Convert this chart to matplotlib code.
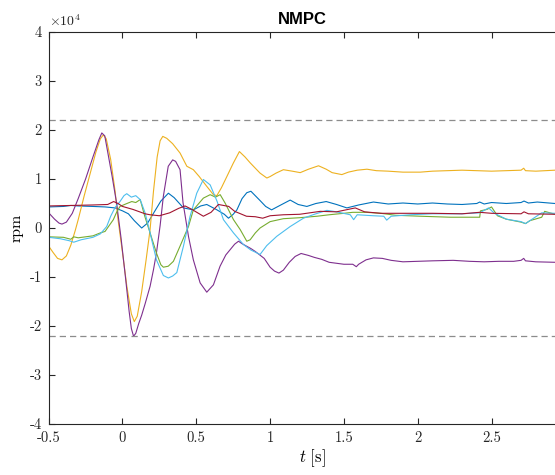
import matplotlib
matplotlib.use("Agg")
import matplotlib.pyplot as plt
import numpy as np

# values, rpm in units of 1e4
scale = 1e4

t_blue = [-0.50, -0.40, -0.35, -0.30, -0.20, -0.118, -0.05, 0.00, 0.04, 0.08, 0.13, 0.17, 0.22, 0.26, 0.311,
          0.35, 0.413, 0.48, 0.53, 0.571, 0.64, 0.69, 0.718, 0.75, 0.775, 0.81, 0.842, 0.87, 0.932, 0.97,
          1.01, 1.06, 1.136, 1.19, 1.249, 1.31, 1.38, 1.45, 1.52, 1.60, 1.70, 1.80, 1.90, 2.00, 2.10, 2.20,
          2.30, 2.40, 2.42, 2.45, 2.50, 2.60, 2.70, 2.72, 2.75, 2.81, 2.93]
v_blue = [0.43, 0.44, 0.46, 0.45, 0.44, 0.43, 0.41, 0.35, 0.29, 0.15, 0.00, 0.10, 0.35, 0.55, 0.71,
          0.62, 0.41, 0.37, 0.45, 0.48, 0.37, 0.28, 0.20, 0.28, 0.37, 0.60, 0.72, 0.75, 0.56, 0.44,
          0.37, 0.45, 0.57, 0.48, 0.44, 0.50, 0.54, 0.48, 0.41, 0.47, 0.53, 0.49, 0.51, 0.49, 0.51, 0.49,
          0.48, 0.50, 0.53, 0.49, 0.52, 0.50, 0.52, 0.55, 0.51, 0.53, 0.50]

t_yellow = [-0.50, -0.47, -0.44, -0.41, -0.38, -0.35, -0.32, -0.30, -0.26, -0.22, -0.18, -0.15, -0.13, -0.11,
            -0.08, -0.05, -0.03, 0.00, 0.03, 0.06, 0.08, 0.10, 0.13, 0.16, 0.187, 0.21, 0.235, 0.255, 0.273,
            0.30, 0.34, 0.39, 0.436, 0.48, 0.52, 0.571, 0.616, 0.639, 0.67, 0.707, 0.75, 0.792, 0.83, 0.865,
            0.90, 0.932, 0.978, 1.00, 1.04, 1.09, 1.15, 1.204, 1.26, 1.328, 1.38, 1.42, 1.486, 1.53, 1.59,
            1.656, 1.72, 1.80, 1.90, 2.017, 2.10, 2.20, 2.30, 2.40, 2.50, 2.60, 2.70, 2.718, 2.73, 2.80, 2.93]
v_yellow = [-0.37, -0.50, -0.62, -0.65, -0.57, -0.35, -0.05, 0.17, 0.65, 1.10, 1.55, 1.82, 1.90, 1.82,
            1.40, 0.75, 0.17, -0.50, -1.20, -1.75, -1.91, -1.80, -1.30, -0.65, -0.03, 0.75, 1.45, 1.78, 1.87,
            1.83, 1.72, 1.53, 1.26, 1.19, 1.05, 0.85, 0.68, 0.66, 0.82, 1.05, 1.32, 1.56, 1.45, 1.33,
            1.22, 1.12, 1.02, 1.05, 1.12, 1.19, 1.16, 1.13, 1.20, 1.27, 1.20, 1.13, 1.09, 1.14, 1.18,
            1.20, 1.17, 1.16, 1.14, 1.14, 1.16, 1.17, 1.18, 1.17, 1.16, 1.17, 1.18, 1.22, 1.17, 1.16, 1.18]

t_purple = [-0.50, -0.46, -0.43, -0.41, -0.38, -0.34, -0.30, -0.25, -0.20, -0.16, -0.14, -0.12, -0.10, -0.07,
            -0.04, -0.01, 0.02, 0.045, 0.06, 0.075, 0.09, 0.11, 0.13, 0.153, 0.187, 0.21, 0.23, 0.255, 0.277,
            0.31, 0.34, 0.36, 0.39, 0.41, 0.447, 0.48, 0.526, 0.571, 0.616, 0.661, 0.70, 0.73, 0.76, 0.786, 0.81,
            0.84, 0.87, 0.90, 0.93, 0.96, 1.00, 1.03, 1.06, 1.09, 1.13, 1.17, 1.21, 1.26, 1.30, 1.35, 1.40,
            1.45, 1.50, 1.56, 1.584, 1.60, 1.65, 1.70, 1.76, 1.82, 1.90, 2.00, 2.10, 2.24, 2.35, 2.45, 2.55,
            2.65, 2.70, 2.718, 2.73, 2.80, 2.93]
v_purple = [0.31, 0.18, 0.10, 0.08, 0.12, 0.30, 0.60, 1.00, 1.45, 1.80, 1.94, 1.88, 1.55, 1.05,
            0.51, -0.20, -1.00, -1.70, -2.05, -2.21, -2.15, -1.95, -1.78, -1.55, -1.19, -0.85, -0.51, 0.05, 0.65,
            1.26, 1.39, 1.36, 1.19, 0.52, -0.17, -0.65, -1.12, -1.31, -1.16, -0.78, -0.55, -0.44, -0.33, -0.27, -0.32,
            -0.37, -0.42, -0.48, -0.55, -0.62, -0.80, -0.88, -0.92, -0.86, -0.70, -0.58, -0.52, -0.56, -0.60, -0.64, -0.70,
            -0.72, -0.74, -0.74, -0.79, -0.74, -0.65, -0.61, -0.62, -0.66, -0.69, -0.68, -0.67, -0.66, -0.68, -0.69, -0.68,
            -0.68, -0.66, -0.62, -0.67, -0.69, -0.70]

t_green = [-0.50, -0.40, -0.35, -0.33, -0.30, -0.25, -0.20, -0.15, -0.118, -0.09, -0.062, -0.04, -0.017, 0.03,
           0.063, 0.09, 0.12, 0.15, 0.187, 0.23, 0.26, 0.277, 0.31, 0.345, 0.39, 0.447, 0.48, 0.548, 0.594,
           0.63, 0.662, 0.695, 0.752, 0.797, 0.842, 0.865, 0.90, 0.932, 1.00, 1.09, 1.20, 1.317, 1.40, 1.50,
           1.56, 1.65, 1.75, 1.85, 2.02, 2.22, 2.42, 2.425, 2.47, 2.50, 2.54, 2.60, 2.70, 2.73, 2.76, 2.84,
           2.86, 2.93]
v_green = [-0.18, -0.19, -0.23, -0.18, -0.20, -0.18, -0.16, -0.10, -0.07, 0.05, 0.17, 0.32, 0.44, 0.50,
           0.54, 0.52, 0.58, 0.25, -0.10, -0.51, -0.75, -0.80, -0.78, -0.68, -0.37, 0.03, 0.37, 0.61, 0.68,
           0.63, 0.68, 0.51, 0.17, -0.03, -0.27, -0.24, -0.10, 0.00, 0.13, 0.19, 0.21, 0.24, 0.27, 0.30,
           0.32, 0.32, 0.30, 0.26, 0.24, 0.22, 0.22, 0.35, 0.38, 0.43, 0.25, 0.18, 0.12, 0.09, 0.15, 0.22,
           0.34, 0.28]

t_cyan = [-0.50, -0.42, -0.36, -0.33, -0.28, -0.20, -0.15, -0.107, -0.08, -0.05, -0.017, 0.01, 0.029, 0.06,
          0.09, 0.12, 0.153, 0.187, 0.23, 0.277, 0.311, 0.34, 0.368, 0.413, 0.458, 0.503, 0.548, 0.594, 0.64,
          0.684, 0.752, 0.82, 0.87, 0.932, 0.977, 1.045, 1.136, 1.226, 1.30, 1.385, 1.45, 1.543, 1.566, 1.59,
          1.70, 1.77, 1.79, 1.82, 1.95, 2.10, 2.30, 2.42, 2.48, 2.52, 2.60, 2.70, 2.73, 2.76, 2.84, 2.93]
v_cyan = [-0.19, -0.22, -0.26, -0.29, -0.24, -0.19, -0.12, 0.03, 0.24, 0.42, 0.54, 0.66, 0.70, 0.63,
          0.66, 0.58, 0.31, -0.10, -0.65, -0.97, -1.02, -0.98, -0.91, -0.37, 0.24, 0.71, 0.99, 0.88, 0.55,
          0.17, -0.10, -0.34, -0.45, -0.54, -0.36, -0.17, 0.03, 0.20, 0.28, 0.36, 0.33, 0.27, 0.17, 0.27,
          0.25, 0.24, 0.16, 0.24, 0.27, 0.29, 0.29, 0.31, 0.41, 0.30, 0.18, 0.13, 0.09, 0.15, 0.31, 0.30]

t_red = [-0.50, -0.35, -0.20, -0.10, -0.06, -0.03, 0.00, 0.07, 0.153, 0.187, 0.25, 0.32, 0.38, 0.424,
         0.47, 0.548, 0.60, 0.65, 0.72, 0.76, 0.84, 0.90, 0.95, 1.00, 1.09, 1.20, 1.34, 1.45, 1.577, 1.64,
         1.75, 1.90, 2.10, 2.30, 2.42, 2.50, 2.70, 2.72, 2.75, 2.93]
v_red = [0.45, 0.46, 0.47, 0.48, 0.54, 0.50, 0.44, 0.38, 0.29, 0.27, 0.25, 0.31, 0.40, 0.45,
         0.38, 0.24, 0.32, 0.48, 0.44, 0.34, 0.24, 0.23, 0.20, 0.25, 0.27, 0.28, 0.34, 0.33, 0.41, 0.33,
         0.30, 0.30, 0.30, 0.29, 0.32, 0.30, 0.29, 0.33, 0.29, 0.28]

limit = 2.2  # rpm limit, units of 1e4

series = [
    (t_blue, v_blue, "#0072BD"),
    (t_yellow, v_yellow, "#EDB120"),
    (t_purple, v_purple, "#7E2F8E"),
    (t_green, v_green, "#77AC30"),
    (t_cyan, v_cyan, "#4DBEEE"),
    (t_red, v_red, "#A2142F"),
]

plt.rcParams['mathtext.fontset'] = 'cm'
plt.rcParams['axes.unicode_minus'] = False

fig = plt.figure(figsize=(5.55, 4.75), dpi=100)
ax = fig.add_axes([0.0877, 0.1074, 0.9123, 0.8252])

for t, v, c in series:
    ax.plot(t, np.array(v) * scale, color=c, lw=0.8)

ax.axhline(limit * scale, color="#8c8c8c", lw=0.9, dashes=(5, 3.2))
ax.axhline(-limit * scale, color="#8c8c8c", lw=0.9, dashes=(5, 3.2))

ax.set_xlim(-0.5, 2.93)
ax.set_ylim(-4e4, 4e4)
ax.set_xticks([-0.5, 0, 0.5, 1, 1.5, 2, 2.5])
ax.set_xticklabels(["-0.5", "0", "0.5", "1", "1.5", "2", "2.5"], family="cmr10", fontsize=10.5)
ax.set_yticks(np.arange(-4, 5) * scale)
ax.set_yticklabels([str(k) for k in range(-4, 5)], family="cmr10", fontsize=10.5)

ax.spines['right'].set_visible(False)
for s in ['left', 'top', 'bottom']:
    ax.spines[s].set_color("#262626")
    ax.spines[s].set_linewidth(0.8)
ax.tick_params(direction='in', length=4, width=0.8, color="#262626", labelcolor="#262626",
               top=True, right=False, pad=5)

ax.text(0.0, 1.008, r"$\times10^{4}$", transform=ax.transAxes, fontsize=10, color="#262626",
        ha="left", va="bottom")
ax.set_title("NMPC", fontsize=12, fontweight="bold", family="Liberation Sans", pad=6)
ax.set_ylabel("rpm", family="cmr10", fontsize=11.5, labelpad=4)
ax.set_xlabel(r"$t\ \mathrm{[s]}$", fontsize=12, labelpad=4)
ax.xaxis.set_label_coords(0.52, -0.06)

fig.savefig("out.png", dpi=100)
